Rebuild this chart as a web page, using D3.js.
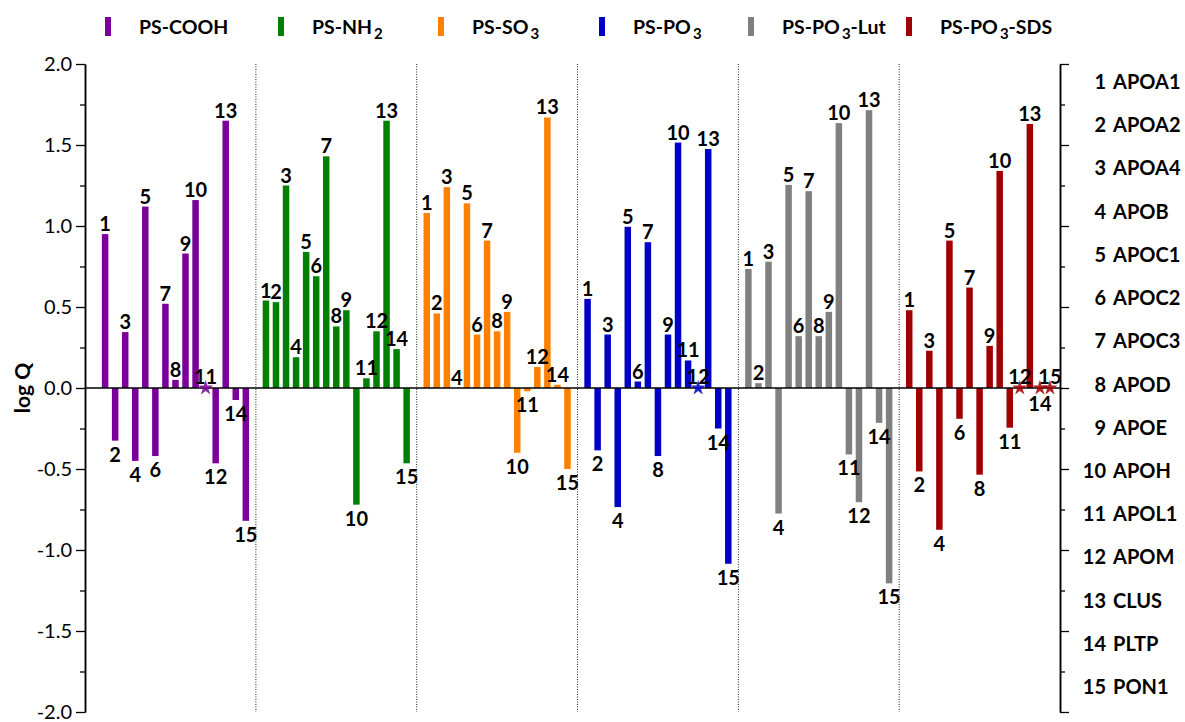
<!DOCTYPE html>
<html>
<head>
<meta charset="utf-8">
<script src="https://cdn.jsdelivr.net/npm/d3@7"></script>
<style>
  body { margin: 0; background: #fff; }
  svg text { font-family: Lato, "Noto Sans", sans-serif; fill: #000; }
</style>
</head>
<body>
<svg id="chart" width="1185" height="722"></svg>
<script>
// Nanoparticle surfaces (subscripts written as "_n")
const series = ["PS-COOH", "PS-NH_2", "PS-SO_3", "PS-PO_3", "PS-PO_3-Lut", "PS-PO_3-SDS"];
const seriesColors = ["#7a0099", "#008000", "#ff8000", "#0000c8", "#808080", "#a00000"];

// Apolipoproteins, numbered 1..15 on the chart
const proteins = ["APOA1", "APOA2", "APOA4", "APOB", "APOC1", "APOC2", "APOC3", "APOD",
                  "APOE", "APOH", "APOL1", "APOM", "CLUS", "PLTP", "PON1"];

// log Q per protein (1..15) for each surface
const coohQ = [0.95, -0.325, 0.345, -0.45, 1.12, -0.42, 0.52, 0.05, 0.83, 1.16, 0, -0.465, 1.65, -0.074, -0.82];
const nh2Q  = [0.54, 0.53, 1.25, 0.19, 0.84, 0.69, 1.43, 0.38, 0.48, -0.72, 0.06, 0.35, 1.65, 0.24, -0.465];
const so3Q  = [1.08, 0.46, 1.24, 0, 1.14, 0.33, 0.91, 0.35, 0.47, -0.40, -0.02, 0.13, 1.67, 0.02, -0.50];
const po3Q  = [0.55, -0.385, 0.33, -0.735, 0.995, 0.04, 0.90, -0.42, 0.33, 1.515, 0.17, 0, 1.475, -0.25, -1.085];
const lutQ  = [0.735, 0.03, 0.78, -0.775, 1.254, 0.32, 1.215, 0.32, 0.47, 1.635, -0.41, -0.705, 1.715, -0.215, -1.206];
const sdsQ  = [0.48, -0.515, 0.23, -0.875, 0.91, -0.19, 0.62, -0.535, 0.26, 1.34, -0.245, 0, 1.63, 0, 0];

// Proteins without a measurable value (drawn as a star on the zero line)
const coohND = [11];
const nh2ND  = [];
const so3ND  = [];
const po3ND  = [12];
const lutND  = [];
const sdsND  = [12, 14, 15];

// Axis ticks
const yMajorTicks = [-2, -1.5, -1, -0.5, 0, 0.5, 1, 1.5, 2];
const yMinorTicks = [-1.75, -1.25, -0.75, -0.25, 0.25, 0.75, 1.25, 1.75];

const values = [coohQ, nh2Q, so3Q, po3Q, lutQ, sdsQ];
const notDetected = [coohND, nh2ND, so3ND, po3ND, lutND, sdsND];
// star labels that sit under the zero line instead of above it
const starLabelBelow = { 5: [14] };

const svg = d3.select("#chart");

// Each surface occupies 16 slots; protein i sits at slot 16*s + i
const SLOTS = 16;
const x = d3.scaleLinear().domain([-1, 6 * SLOTS]).range([85, 1060]);
const y = d3.scaleLinear().domain([-2, 2]).range([712, 64]);
const slotOf = (s, i) => s * SLOTS + i;
const barW = 6.5;

// group separators
svg.append("g").selectAll("line")
  .data(d3.range(1, series.length))
  .join("line")
  .attr("x1", d => x(d * SLOTS)).attr("x2", d => x(d * SLOTS))
  .attr("y1", y(2)).attr("y2", y(-2))
  .attr("stroke", "#222").attr("stroke-width", 1)
  .attr("stroke-dasharray", "1,1.5");

// flatten into records
const records = [];
values.forEach((arr, s) => {
  arr.forEach((v, k) => {
    const idx = k + 1;
    records.push({
      s, idx, v,
      nd: notDetected[s].includes(idx),
      below: v < 0 || (starLabelBelow[s] || []).includes(idx)
    });
  });
});

// bars
svg.append("g").selectAll("rect")
  .data(records.filter(d => !d.nd && d.v !== 0))
  .join("rect")
  .attr("x", d => x(slotOf(d.s, d.idx)) - barW / 2)
  .attr("width", barW)
  .attr("y", d => y(Math.max(d.v, 0)))
  .attr("height", d => Math.abs(y(d.v) - y(0)))
  .attr("fill", d => seriesColors[d.s]);

// zero line
svg.append("line")
  .attr("x1", x(-1)).attr("x2", x(6 * SLOTS))
  .attr("y1", y(0)).attr("y2", y(0))
  .attr("stroke", "#000").attr("stroke-width", 1.5);

// stars for non-detected proteins
svg.append("g").selectAll("path")
  .data(records.filter(d => d.nd))
  .join("path")
  .attr("transform", d => `translate(${x(slotOf(d.s, d.idx))},${y(0)})`)
  .attr("d", d3.symbol(d3.symbolStar).size(70))
  .attr("fill", d => seriesColors[d.s])
  .attr("opacity", 0.85);

// protein number labels
svg.append("g").selectAll("text")
  .data(records)
  .join("text")
  .attr("x", d => x(slotOf(d.s, d.idx)))
  .attr("y", d => {
    if (d.nd) return d.below ? y(0) + 23 : y(0) - 4;
    return d.below ? y(d.v) + 21 : y(d.v) - 3;
  })
  .attr("text-anchor", "middle")
  .attr("font-size", 20)
  .attr("font-weight", 700)
  .text(d => d.idx);

// left axis
const axisStyle = g => {
  g.select(".domain").attr("stroke", "#000").attr("stroke-width", 1.5);
  g.selectAll(".tick line").attr("stroke", "#000").attr("stroke-width", 1.3);
};
svg.append("g")
  .attr("transform", `translate(${x(-1)},0)`)
  .call(d3.axisLeft(y).tickValues(yMajorTicks).tickSize(9).tickSizeOuter(0).tickPadding(4)
        .tickFormat(d => d.toFixed(1)))
  .call(axisStyle)
  .call(g => g.selectAll(".tick text")
    .attr("font-family", "Lato, sans-serif").attr("font-size", 20).attr("fill", "#000"));
svg.append("g")
  .attr("transform", `translate(${x(-1)},0)`)
  .call(d3.axisLeft(y).tickValues(yMinorTicks).tickSize(5).tickSizeOuter(0).tickFormat(""))
  .call(axisStyle);

// right axis (ticks only)
svg.append("g")
  .attr("transform", `translate(${x(6 * SLOTS)},0)`)
  .call(d3.axisRight(y).tickValues(yMajorTicks).tickSize(9).tickSizeOuter(0).tickFormat(""))
  .call(axisStyle);
svg.append("g")
  .attr("transform", `translate(${x(6 * SLOTS)},0)`)
  .call(d3.axisRight(y).tickValues(yMinorTicks).tickSize(5).tickSizeOuter(0).tickFormat(""))
  .call(axisStyle);

// y axis title
svg.append("text")
  .attr("transform", `translate(30,${y(0)}) rotate(-90)`)
  .attr("text-anchor", "middle")
  .attr("font-size", 21)
  .attr("font-weight", 700)
  .text("log Q");

// protein key on the right
const keyY = d3.scalePoint().domain(proteins).range([82, 687]);
const key = svg.append("g").selectAll("g")
  .data(proteins)
  .join("g")
  .attr("transform", d => `translate(0,${keyY(d) + 7})`);
key.append("text")
  .attr("x", 1106).attr("text-anchor", "end")
  .attr("font-size", 20).attr("font-weight", 700)
  .text((d, i) => i + 1);
key.append("text")
  .attr("x", 1113)
  .attr("font-size", 20).attr("font-weight", 700)
  .text(d => d);

// legend
const legendX = [108, 281, 441, 602, 751, 909];
const legend = svg.append("g").selectAll("g")
  .data(series)
  .join("g")
  .attr("transform", (d, i) => `translate(${legendX[i]},0)`);
legend.append("rect")
  .attr("x", -3).attr("y", 17).attr("width", 6).attr("height", 19)
  .attr("fill", (d, i) => seriesColors[i]);
legend.append("text")
  .attr("x", 31).attr("y", 34)
  .attr("font-size", 19.5).attr("font-weight", 700)
  .each(function (d) {
    const t = d3.select(this);
    d.split(/_(\d)/).forEach((part, j) => {
      if (!part) return;
      if (j % 2 === 1) {
        t.append("tspan").attr("dx", 2).attr("dy", 5).attr("font-size", 15).text(part);
      } else {
        t.append("tspan").attr("dy", j > 0 ? -5 : 0).text(part);
      }
    });
  });
</script>
</body>
</html>
